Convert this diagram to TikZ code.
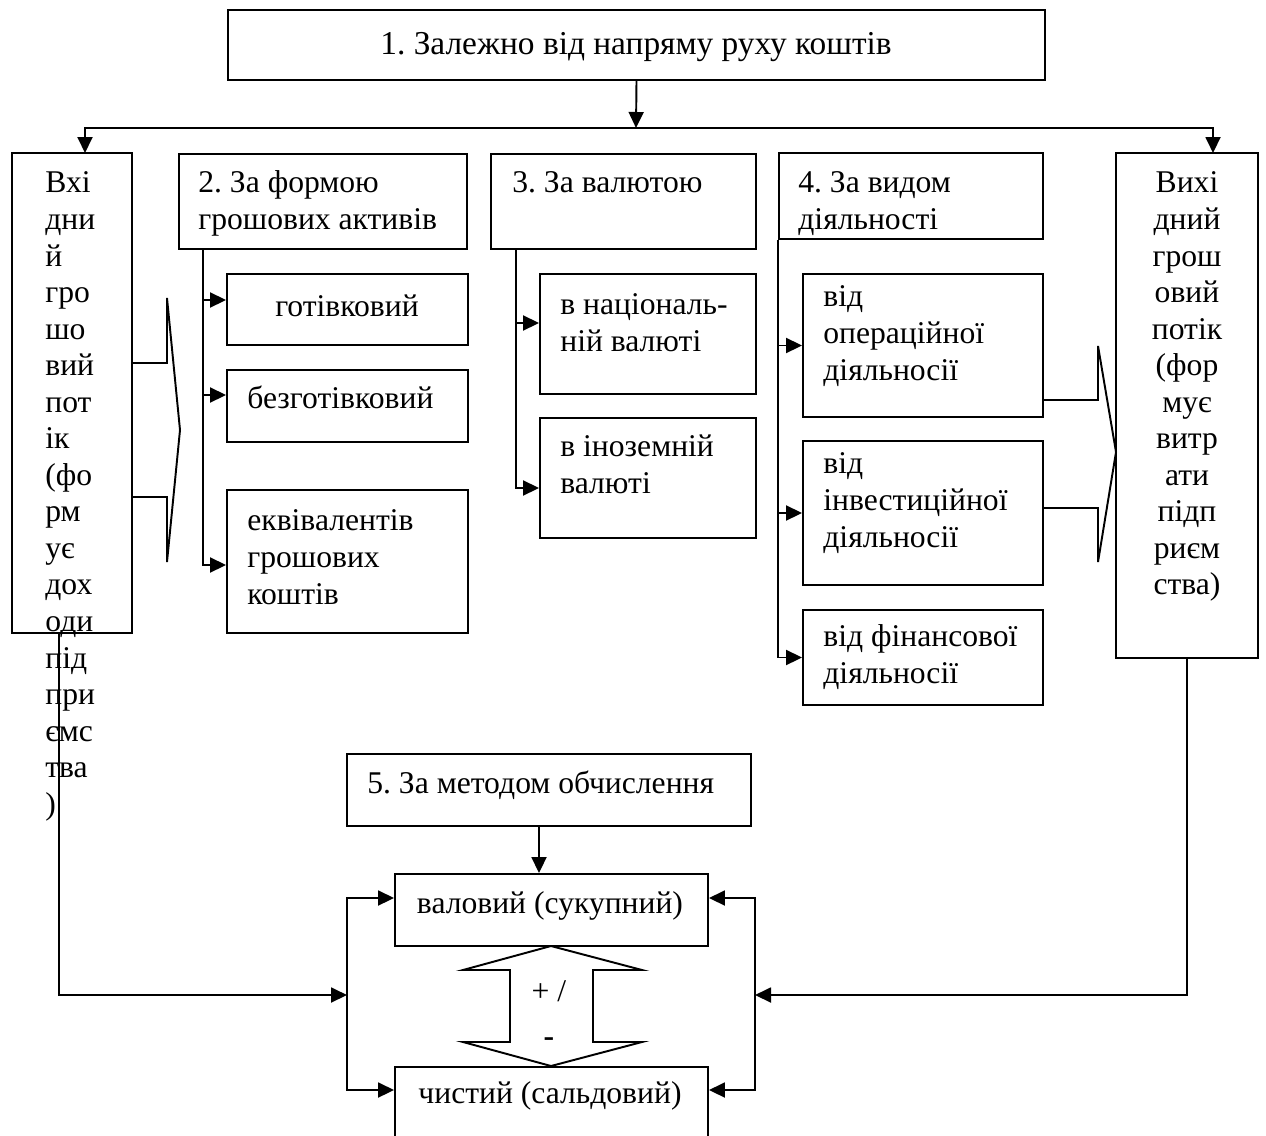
\documentclass[tikz,border=0pt]{standalone}
\usepackage{fontspec}
\setmainfont{Liberation Serif}
\usetikzlibrary{arrows.meta,fit,calc}
\frenchspacing
\newcommand{\fs}{\fontsize{18}{20.8}\selectfont}
\begin{document}
\begin{tikzpicture}[x=0.02cm, y=-0.02cm,
	box/.style={draw, line width=1.1pt, inner sep=0pt},
	txt/.style={inner sep=0pt, font=\fs, align=left, anchor=north west},
	ctxt/.style={inner sep=0pt, font=\fs, anchor=base},
	ln/.style={line width=1.1pt},
	arr/.style={line width=1.1pt, -{Triangle[length=0.32cm, width=0.3cm]}}]
		\useasboundingbox (0,0) rectangle (1266,1135);
		\clip (0,0) rectangle (1266,1135);
		\node[box, fit={(228,10) (1045,80)}] (dir) {};
		\node[ctxt, font=\fontsize{19}{22}\selectfont] (dirt) at (636,55) {1. Залежно від напряму руху коштів};
		\node[box, fit={(12,153) (132,633)}] (in) {};
		\node[txt] (int) at (45,167) {\strut Вхі\\дни\\й\\гро\\шо\\вий\\пот\\ік\\(фо\\рм\\ує\\дох\\оди\\під\\при\\ємс\\тва\\)};
		\node[box, fit={(179,154) (467,249)}] (form) {};
		\node[txt] (formt) at (198,167) {\strut 2. За формою\\грошових активів};
		\node[box, fit={(227,274) (468,345)}] (cash) {};
		\node[ctxt] (casht) at (347,316) {готівковий};
		\node[box, fit={(227,370) (468,442)}] (noncash) {};
		\node[ctxt, anchor=base west] (noncasht) at (247,408) {безготівковий};
		\node[box, fit={(227,490) (468,633)}] (equiv) {};
		\node[txt] (equivt) at (247,505) {\strut еквівалентів\\грошових\\коштів};
		\node[box, fit={(491,154) (756,249)}] (cur) {};
		\node[txt] (curt) at (512,167) {\strut 3. За валютою};
		\node[box, fit={(540,274) (756,394)}] (nat) {};
		\node[txt] (natt) at (560,289) {\strut в національ-\\ній валюті};
		\node[box, fit={(540,418) (756,538)}] (forn) {};
		\node[txt] (fornt) at (560,431) {\strut в іноземній\\валюті};
		\node[box, fit={(779,153) (1043,239)}] (act) {};
		\node[txt] (actt) at (798,167) {\strut 4. За видом\\діяльності};
		\node[box, fit={(803,274) (1043,417)}] (oper) {};
		\node[txt] (opert) at (823,281) {\strut від\\операційної\\діяльносії};
		\node[box, fit={(803,441) (1043,585)}] (inv) {};
		\node[txt] (invt) at (823,448) {\strut від\\інвестиційної\\діяльносії};
		\node[box, fit={(803,610) (1043,705)}] (fin) {};
		\node[txt] (fint) at (823,621) {\strut від фінансової\\діяльносії};
		\node[box, fit={(1116,153) (1258,658)}] (out) {};
		\node[txt, align=center, anchor=north] (outt) at (1187,167) {\strut Вихі\\дний\\грош\\овий\\потік\\(фор\\мує\\витр\\ати\\підп\\риєм\\ства)};
		\node[box, fit={(347,754) (751,826)}] (calc) {};
		\node[ctxt, anchor=base west] (calct) at (367,793) {5. За методом обчислення};
		\node[box, fit={(395,874) (708,946)}] (gross) {};
		\node[ctxt] (grosst) at (550,913) {валовий (сукупний)};
		\node[box, fit={(395,1067) (708,1150)}] (net) {};
		\node[ctxt] (nett) at (550,1103) {чистий (сальдовий)};
		\draw[ln] (551,946) -- (642,970) -- (593,970) -- (593,1042) -- (642,1042) -- (551,1066)
			-- (463,1042) -- (510,1042) -- (510,970) -- (463,970) -- cycle;
		\node[ctxt] (plus) at (549,1001) {+ /};
		\node[ctxt] (minus) at (549,1046) {\textbf{-}};
		\draw[ln] (132,363) -- (167,363) -- (167,298) -- (180,430) -- (167,562) -- (167,497) -- (132,497);
		\draw[ln] (1043,400) -- (1098,400) -- (1098,346) -- (1116,452) -- (1098,562) -- (1098,508) -- (1043,508);
		\coordinate (bus) at (636,128);
		\coordinate (inTop) at (85,153);
		\coordinate (outTop) at (1213,153);
		\draw[arr] (dir.south) -- (bus);
		\draw[arr] (bus) -| (inTop);
		\draw[arr] (bus) -| (outTop);
		\coordinate (formS) at (203,249);
		\draw[arr] (formS) |- ([yshift=0.19cm]cash.west);
		\draw[arr] (formS) |- ([yshift=0.22cm]noncash.west);
		\draw[arr] (formS) |- ([yshift=-0.07cm]equiv.west);
		\coordinate (curS) at (516,249);
		\draw[arr] (curS) |- ([yshift=0.22cm]nat.west);
		\draw[arr] (curS) |- ([yshift=-0.2cm]forn.west);
		\draw[arr] (act.south west) |- (oper.west);
		\draw[arr] (act.south west) |- (inv.west);
		\draw[arr] (act.south west) |- (fin.west);
		\draw[arr] ([xshift=-0.2cm]calc.south) -- ([xshift=-0.2cm]calc.south |- gross.north);
		\coordinate (lbus) at (347,995);
		\coordinate (rbus) at (755,995);
		\draw[arr] ([xshift=-0.26cm]in.south) |- (lbus);
		\draw[arr] (lbus) |- ([yshift=0.24cm]gross.west);
		\draw[arr] (lbus) |- ([yshift=0.37cm]net.west);
		\draw[arr] (out.south) |- (rbus);
		\draw[arr] (rbus) |- ([yshift=0.24cm]gross.east);
		\draw[arr] (rbus) |- ([yshift=0.37cm]net.east);
		\end{tikzpicture}
\end{document}
